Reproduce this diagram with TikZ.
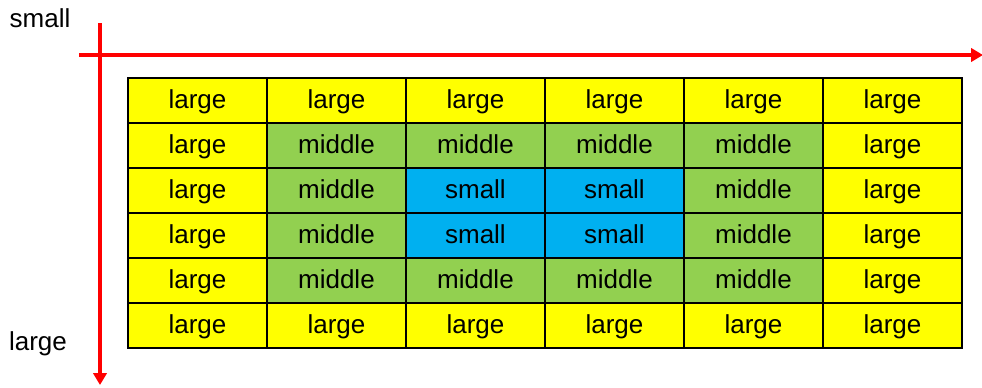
\documentclass[tikz,border=0pt]{standalone}
\usepackage{fontspec}
\usetikzlibrary{arrows.meta}
\setmainfont{Liberation Sans}
\definecolor{cyel}{HTML}{FFFF00}
\definecolor{cgrn}{HTML}{92D050}
\definecolor{cblu}{HTML}{00B0F0}
\definecolor{cred}{HTML}{FF0000}
\begin{document}
\begin{tikzpicture}[x=0.75pt,y=-0.75pt,
  cell/.style={draw=black,line width=1.4pt,minimum width=104.25pt,minimum height=33.75pt,inner sep=0pt,font=\fontsize{19.5}{21}\selectfont,text height=1.15em,text depth=0em,anchor=north west},
  axis/.style={draw=cred,line width=2.5pt,-{Triangle[length=9pt,width=10pt]}},
  lbl/.style={font=\fontsize{19.5}{21}\selectfont,inner sep=0pt}]
\useasboundingbox (0,0) rectangle (982,387);
% cells
\foreach \r in {0,...,5}{
  \foreach \c in {0,...,5}{
    \pgfmathtruncatemacro{\ring}{min(min(\r,5-\r),min(\c,5-\c))}
    \ifcase\ring
      \node[cell,fill=cyel] (c\r\c) at ({127+139*\c},{77+45*\r}) {large};
    \or
      \node[cell,fill=cgrn] (c\r\c) at ({127+139*\c},{77+45*\r}) {middle};
    \else
      \node[cell,fill=cblu] (c\r\c) at ({127+139*\c},{77+45*\r}) {small};
    \fi
  }
}
% axes
\coordinate (hs) at (79,55);
\coordinate (he) at (983,55);
\coordinate (vs) at (100,23);
\coordinate (ve) at (100,385);
\draw[axis] (hs) -- (he);
\draw[axis] (vs) -- (ve);
\node[lbl] (ls) at (40,18) {small};
\node[lbl] (ll) at (38,344) {large};
\end{tikzpicture}
\end{document}
